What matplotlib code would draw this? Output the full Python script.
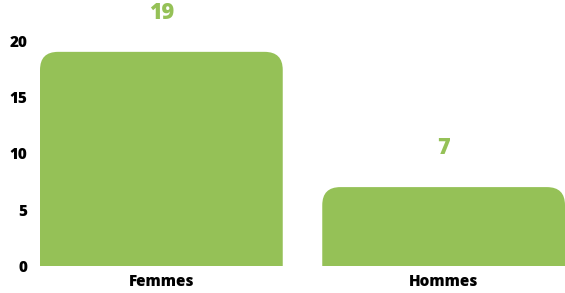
import matplotlib
matplotlib.use("Agg")
import matplotlib.pyplot as plt
from matplotlib.patches import FancyBboxPatch

categories = ["Femmes", "Hommes"]
values = [19, 7]
yticks = [0, 5, 10, 15, 20]

color = "#95c157"

plt.rcParams['font.family'] = ['Open Sans', 'DejaVu Sans']

fig = plt.figure(figsize=(5.65, 2.93), dpi=100)
ax = fig.add_axes([40/565, 27/293, 525/565, 266/293])

bars = ax.bar(range(len(categories)), values, width=0.86, color=color)
ax.set_xlim(-0.43, 1.43)
ax.set_ylim(0, 23.6)

# replace with rounded-top bars
rx = 0.064
aspect = 25
for b in bars:
    x, y, w, h = b.get_x(), b.get_y(), b.get_width(), b.get_height()
    b.set_visible(False)
    p = FancyBboxPatch((x + rx, y - 3), w - 2*rx, h + 3 - rx*aspect,
                       boxstyle=f"round,pad={rx},rounding_size={rx}",
                       mutation_aspect=aspect, facecolor=color, edgecolor='none')
    ax.add_patch(p)

for i, v in enumerate(values):
    ax.annotate(str(v), (i, v), xytext=(0, 28), textcoords='offset points',
                ha='center', va='center', fontsize=15.5, fontweight=800, color=color)

ax.set_xticks(range(len(categories)))
ax.set_xticklabels(categories, fontsize=11, fontweight=800)
ax.set_yticks(yticks)
ax.set_yticklabels([str(t) for t in yticks], fontsize=11, fontweight=800)
ax.tick_params(length=0)
ax.tick_params(axis='y', pad=9)
ax.tick_params(axis='x', pad=6)
for s in ax.spines.values():
    s.set_visible(False)

fig.savefig("out.png", dpi=100)
